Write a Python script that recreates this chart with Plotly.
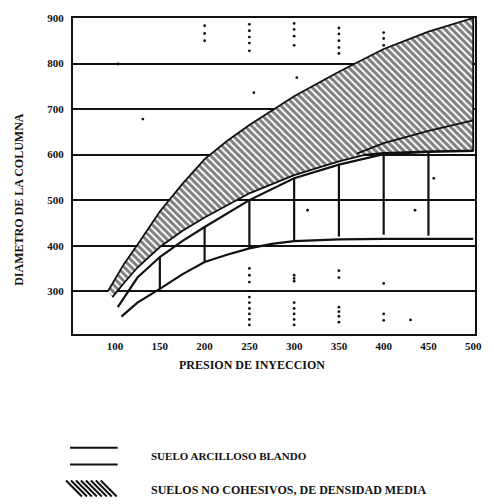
import plotly.graph_objects as go

# --- data ---
# upper edge of the hatched band (suelos no cohesivos)
HU_X = [92, 110, 125, 150, 175, 200, 225, 250, 300, 350, 400, 450, 500]
HU_Y = [300, 360, 402, 475, 535, 590, 630, 665, 728, 782, 832, 870, 900]
# lower edge of the hatched band
HL_X = [97, 110, 125, 150, 175, 200, 250, 300, 350, 380, 400, 450, 500]
HL_Y = [287, 318, 352, 397, 432, 462, 515, 555, 585, 600, 604, 607, 609]
# line running inside the hatched band on the right
HL2_X = [370, 400, 450, 500]
HL2_Y = [602, 625, 652, 675]

# suelo arcilloso blando: upper and lower curves
CU_X = [103, 125, 150, 175, 200, 250, 300, 350, 400, 450, 500]
CU_Y = [265, 330, 375, 410, 441, 500, 548, 578, 601, 606, 608]
CL_X = [107, 125, 150, 175, 200, 225, 250, 275, 300, 350, 400, 500]
CL_Y = [244, 275, 305, 337, 364, 380, 394, 404, 410, 414, 415, 415]

# vertical segments drawn inside the clay band
VERT_X = [150, 200, 250, 300, 350, 400, 450]
VERT_LOW = [305, 364, 394, 410, 420, 424, 422]
VERT_HIGH = [375, 441, 500, 548, 578, 601, 606]

# scattered dots
DOTS_X = [200, 200, 200, 250, 250, 250, 250, 250, 300, 300, 300, 300,
          350, 350, 350, 350, 350, 400, 400, 400,
          250, 250, 250, 250, 250, 250, 250, 250, 250,
          300, 300, 300, 300, 300, 300, 300, 300,
          350, 350, 350, 350, 350, 350, 400, 400, 400, 430,
          255, 303, 315, 435, 456, 103, 131]
DOTS_Y = [883, 866, 850, 886, 872, 858, 845, 828, 888, 875, 860, 840,
          878, 865, 850, 835, 822, 868, 855, 840,
          350, 335, 320, 287, 275, 262, 250, 238, 226,
          335, 328, 322, 275, 262, 250, 238, 226,
          345, 330, 265, 255, 245, 232, 317, 250, 236, 237,
          736, 769, 478, 478, 548, 799, 678]

X_TICKS = [100, 150, 200, 250, 300, 350, 400, 450, 500]
Y_TICKS = [300, 400, 500, 600, 700, 800, 900]

X_TITLE = "PRESION DE INYECCION"
Y_TITLE = "DIAMETRO DE LA COLUMNA"
LEGEND_CLAY = "SUELO ARCILLOSO BLANDO"
LEGEND_SAND = "SUELOS NO COHESIVOS, DE DENSIDAD MEDIA"

INK = "#111111"
FONT = "Liberation Serif"

W, H = 494, 504
M = {"l": 73, "r": 16, "t": 17, "b": 170}
PW = W - M["l"] - M["r"]
PH = H - M["t"] - M["b"]


def px(x):
    return (x - M["l"]) / PW


def py(y):
    return (H - M["b"] - y) / PH


fig = go.Figure()

# hatched band as a closed polygon
fig.add_trace(
    go.Scatter(
        x=HU_X + HL_X[::-1],
        y=HU_Y + HL_Y[::-1],
        mode="lines",
        fill="toself",
        fillcolor="white",
        fillpattern={"shape": "\\", "fgcolor": "black", "bgcolor": "white",
                     "size": 5, "solidity": 0.6},
        line={"color": INK, "width": 1.8},
        hoverinfo="skip",
        showlegend=False,
    )
)
fig.add_trace(go.Scatter(x=HL2_X, y=HL2_Y, mode="lines",
                         line={"color": INK, "width": 1.8},
                         hoverinfo="skip", showlegend=False))

for xs, ys in [(CU_X, CU_Y), (CL_X, CL_Y)]:
    fig.add_trace(go.Scatter(x=xs, y=ys, mode="lines",
                             line={"color": INK, "width": 2.2},
                             hoverinfo="skip", showlegend=False))

for x, lo, hi in zip(VERT_X, VERT_LOW, VERT_HIGH):
    fig.add_trace(go.Scatter(x=[x, x], y=[lo, hi], mode="lines",
                             line={"color": INK, "width": 2.2},
                             hoverinfo="skip", showlegend=False))

fig.add_trace(go.Scatter(x=DOTS_X, y=DOTS_Y, mode="markers",
                         marker={"color": INK, "size": 2.8},
                         hoverinfo="skip", showlegend=False))

# legend drawn by hand, like the printed key
shapes = [
    {"type": "line", "xref": "paper", "yref": "paper",
     "x0": px(70), "x1": px(118), "y0": py(y), "y1": py(y),
     "line": {"color": INK, "width": 2}}
    for y in (448, 465)
]
for x0 in range(66, 104, 5):
    shapes.append({"type": "line", "xref": "paper", "yref": "paper",
                   "x0": px(x0), "x1": px(x0 + 16), "y0": py(481), "y1": py(497),
                   "line": {"color": INK, "width": 2}})

annotations = [
    {"text": LEGEND_CLAY, "x": px(150), "y": py(456), "xanchor": "left",
     "font": {"size": 11}},
    {"text": LEGEND_SAND, "x": px(150), "y": py(490), "xanchor": "left",
     "font": {"size": 12}},
    {"text": X_TITLE, "x": px(253), "y": py(365), "xanchor": "center",
     "font": {"size": 12}},
    {"text": Y_TITLE, "x": px(19), "y": py(199), "xanchor": "center",
     "textangle": -90, "font": {"size": 12}},
]
for a in annotations:
    a.update({"xref": "paper", "yref": "paper", "yanchor": "middle",
              "showarrow": False})
    a["font"].update({"family": FONT, "color": INK, "weight": "bold"})

fig.update_layout(
    width=W,
    height=H,
    margin=M,
    paper_bgcolor="white",
    plot_bgcolor="white",
    font={"family": FONT, "color": INK, "size": 11, "weight": "bold"},
    shapes=shapes,
    annotations=annotations,
    showlegend=False,
)
fig.update_xaxes(
    range=[53, 502], tickvals=X_TICKS, showgrid=False, zeroline=False,
    showline=True, mirror=True, linecolor=INK, linewidth=2, ticks="",
    ticklabelstandoff=1,
)
fig.update_yaxes(
    range=[206, 900], tickvals=Y_TICKS, showgrid=True, gridcolor=INK,
    gridwidth=1.8, zeroline=False, showline=True, mirror=True,
    linecolor=INK, linewidth=2, ticks="", ticklabelstandoff=5,
)

# the page's default body margin would shift the figure by 8px
fig.write_html(
    "out.html",
    config={"displayModeBar": False},
    post_script="document.body.style.margin='0';",
)
